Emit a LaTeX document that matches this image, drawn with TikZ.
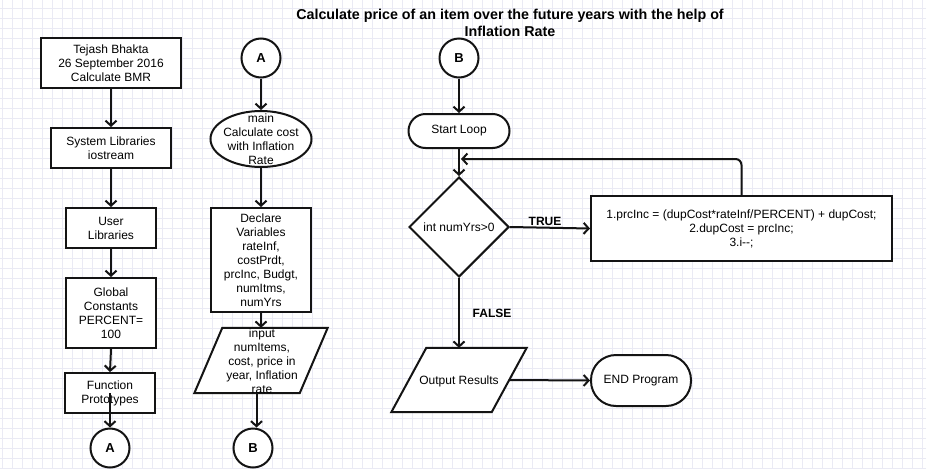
\documentclass[tikz,border=0pt]{standalone}
\usepackage{fontspec}
\setmainfont{Liberation Sans}
\usetikzlibrary{shapes.geometric,arrows.meta,calc}
\definecolor{gridc}{RGB}{234,234,244}
\definecolor{ink}{RGB}{20,20,20}
\begin{document}
\begin{tikzpicture}[x=1pt,y=-1pt,
  every node/.style={font=\fontsize{12}{14}\selectfont, text=black, align=center, inner sep=0pt},
  shp/.style={draw=ink, line width=2pt, fill=white},
  proc/.style={shp, rectangle},
  pill/.style={shp, rectangle},
  conn/.style={shp, circle, minimum size=39pt, font=\fontsize{13}{14}\selectfont\bfseries},
  ghost/.style={draw=none, rectangle},
  arr/.style={draw=ink, line width=2pt, -{Straight Barb[length=5pt,width=11pt]}},
  lbl/.style={font=\fontsize{12}{14}\selectfont\bfseries}
]
\useasboundingbox (0,0) rectangle (926,469);
\fill[white] (0,0) rectangle (926,469);
\foreach \gx in {2,12,...,922} \draw[gridc, line width=0.7pt] (\gx,0) -- (\gx,469);
\foreach \gy in {8,18,...,468} \draw[gridc, line width=0.7pt] (0,\gy) -- (926,\gy);

% title
\node[font=\fontsize{14.3}{16.5}\selectfont\bfseries] (title) at (510,23)
  {Calculate price of an item over the future years with the help of\\Inflation Rate};

% left column
\node[proc, minimum width=140pt, minimum height=50pt] (n1) at (111,63)
  {Tejash Bhakta\\26 September 2016\\Calculate BMR};
\node[proc, minimum width=120pt, minimum height=40pt] (n2) at (111,148)
  {System Libraries\\iostream};
\node[proc, minimum width=90pt, minimum height=40pt] (n3) at (111,228)
  {User\\Libraries};
\node[proc, minimum width=90pt, minimum height=70pt] (n4) at (111,313)
  {Global\\Constants\\PERCENT=\\100};
\node[proc, minimum width=90pt, minimum height=40pt] (n5) at (110,393)
  {Function\\Prototypes};
\node[conn] (cA1) at (110,448) {A};

\draw[arr] (n1.south) -- (n2.north);
\draw[arr] (n2.south) -- (n3.north);
\draw[arr] (n3.south) -- (n4.north);
\draw[arr] (n4.south) -- (n5.north);
\draw[arr] (n5.center) -- (cA1.north);

% middle column
\node[conn] (cA2) at (261,58) {A};
\node[shp, ellipse, minimum width=101pt, minimum height=56pt] (ell) at (261,139) {};
\node (ellT) at (261,139.5) {main\\Calculate cost\\with Inflation\\Rate};
\node[proc, minimum width=100pt, minimum height=104pt] (decl) at (261,260)
  {Declare\\Variables\\rateInf,\\costPrdt,\\prcInc, Budgt,\\numItms,\\numYrs};
\node[ghost, minimum width=105pt, minimum height=65pt] (inp) at (261,360.5) {};
\draw[shp] ([xshift=14pt]inp.north west) -- ([xshift=14pt]inp.north east)
  -- ([xshift=-14pt]inp.south east) -- ([xshift=-14pt]inp.south west) -- cycle;
\node (inpT) at (262,361) {input\\numItems,\\cost, price in\\year, Inflation\\rate};
\node[conn] (cB2) at (253,448) {B};

\draw[arr] (cA2.south) -- (ell.north);
\draw[arr] (ell.south) -- (decl.north);
\draw[arr] (decl.south) -- (inp.north);
\draw[arr] ([xshift=-4.5pt]inp.south) -- ([xshift=-4.5pt]inp.south |- cB2.north);

% right part
\node[conn] (cB3) at (459,58) {B};
\node[pill, rounded corners=17pt, minimum width=101pt, minimum height=34pt] (sl) at (459,131) {Start Loop};
\node[shp, diamond, aspect=1, minimum width=100pt, minimum height=100pt] (dia) at (459,227) {int numYrs>0};
\node[proc, minimum width=301pt, minimum height=65pt] (calc) at (741.5,228.5)
  {1.prcInc = (dupCost*rateInf/PERCENT) + dupCost;\\2.dupCost = prcInc;\\3.i{-}{-};};
\node[ghost, minimum width=100pt, minimum height=64pt] (outp) at (459,380) {};
\draw[shp] ([xshift=17.5pt]outp.north west) -- ([xshift=17.5pt]outp.north east)
  -- ([xshift=-17.5pt]outp.south east) -- ([xshift=-17.5pt]outp.south west) -- cycle;
\node (outT) at (459,381) {Output Results};
\node[pill, rounded corners=25pt, minimum width=100pt, minimum height=51pt] (endp) at (641,380.5) {END Program};

\coordinate (lp) at (461,159);
\draw[arr] (cB3.south) -- (sl.north);
\draw[arr] (sl.south) -- (dia.north);
\draw[arr] (dia.east) -- (calc.west);
\draw[arr, rounded corners=6pt] (calc.north) |- (lp);
\draw[arr] (dia.south) -- (outp.north);
\draw[arr] (outp.east) -- (endp.west);

\node[lbl] (tT) at (545,221) {TRUE};
\node[lbl] (tF) at (492,313) {FALSE};
\end{tikzpicture}
\end{document}
